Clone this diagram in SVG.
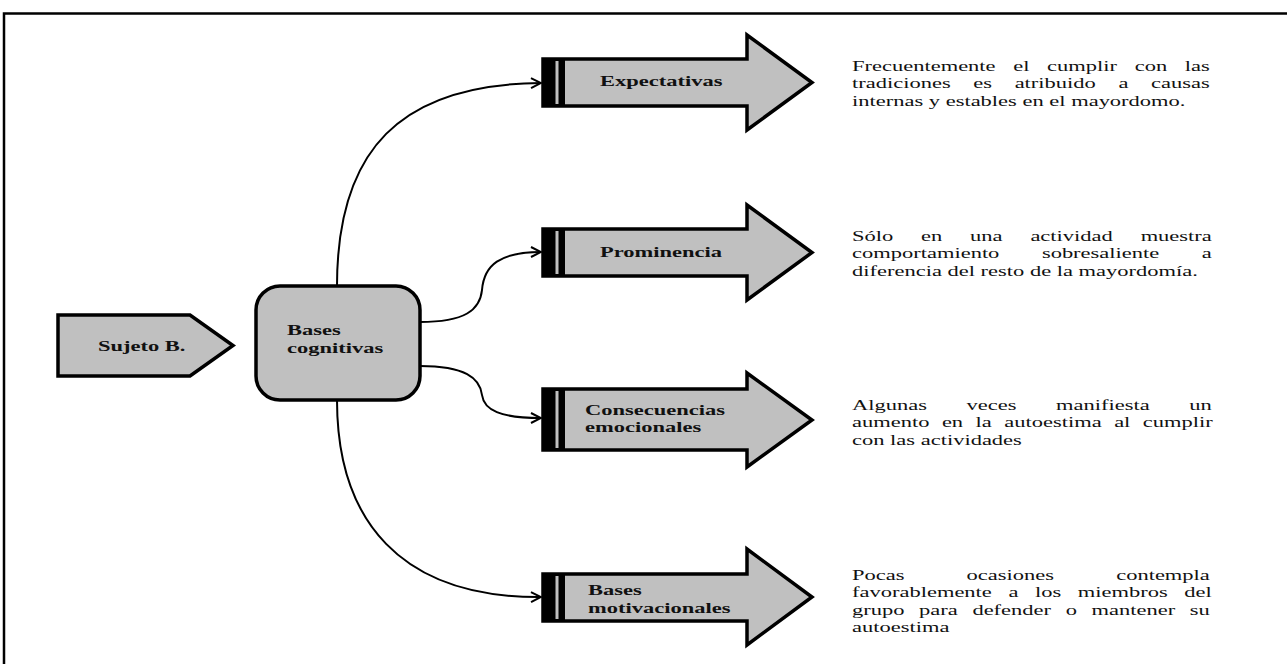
<svg xmlns="http://www.w3.org/2000/svg" width="1287" height="664" viewBox="0 0 1287 664">
<style>
.shape{fill:#c0c0c0;stroke:#000;stroke-width:3.5;stroke-linejoin:miter}
.band{fill:#000}
.stripe{fill:#c0c0c0}
.lbl{font-family:"Liberation Serif","Times New Roman",serif;font-size:15px;font-weight:bold;fill:#111}
.body{font-family:"Liberation Serif","Times New Roman",serif;font-size:15px;fill:#111}
.conn{fill:none;stroke:#000;stroke-width:2}
</style>
<defs>
<marker id="open" viewBox="0 0 12 12" refX="11" refY="6" markerWidth="12" markerHeight="12" markerUnits="userSpaceOnUse" orient="auto">
<path d="M1,1 L11,6 L1,11" fill="none" stroke="#000" stroke-width="2"/>
</marker>
</defs>
<rect width="1287" height="664" fill="#fff"/>
<path d="M4,664 V13.5 H1287" fill="none" stroke="#000" stroke-width="2.5"/>

<g id="connectors">
<path class="conn" d="M337,286 C337,150 400,84 541,83" marker-end="url(#open)"/>
<path class="conn" d="M420,322 C465,322 480,310 482,290 C484,265 500,252 541,252" marker-end="url(#open)"/>
<path class="conn" d="M420,366 C465,366 480,378 482,395 C484,410 500,418 541,418" marker-end="url(#open)"/>
<path class="conn" d="M337,400 C337,520 400,598 541,597" marker-end="url(#open)"/>
</g>

<g id="sujeto">
<polygon class="shape" points="58,315 190,315 233,345.5 190,376 58,376"/>
<text class="lbl" transform="translate(98,351) scale(1.5,1)" x="0" y="0">Sujeto B.</text>
</g>

<g id="bases-cognitivas">
<rect class="shape" x="256" y="286" width="164" height="114" rx="24" ry="24"/>
<text class="lbl" transform="translate(287,0) scale(1.5,1)"><tspan x="0" y="335">Bases</tspan><tspan x="0" y="353">cognitivas</tspan></text>
</g>

<g id="expectativas">
<polygon class="shape" points="543,59 747,59 747,35 812,82.5 747,130 747,106 543,106"/>
<rect class="band" x="543" y="59" width="22" height="47"/>
<rect class="stripe" x="555.5" y="61" width="3" height="43"/>
<text class="lbl" transform="translate(600,86) scale(1.5,1)" x="0" y="0">Expectativas</text>
</g>

<g id="prominencia">
<polygon class="shape" points="543,229 747,229 747,205 812,252.5 747,300 747,276 543,276"/>
<rect class="band" x="543" y="229" width="22" height="47"/>
<rect class="stripe" x="555.5" y="231" width="3" height="43"/>
<text class="lbl" transform="translate(600,257) scale(1.5,1)" x="0" y="0">Prominencia</text>
</g>

<g id="consecuencias">
<polygon class="shape" points="543,389 747,389 747,373 812,420 747,467 747,450 543,450"/>
<rect class="band" x="543" y="389" width="22" height="61"/>
<rect class="stripe" x="555.5" y="391" width="3" height="57"/>
<text class="lbl" transform="translate(585,0) scale(1.5,1)"><tspan x="0" y="415">Consecuencias</tspan><tspan x="0" y="432">emocionales</tspan></text>
</g>

<g id="bases-motivacionales">
<polygon class="shape" points="543,574 747,574 747,549 812,597 747,645 747,621 543,621"/>
<rect class="band" x="543" y="574" width="22" height="47"/>
<rect class="stripe" x="555.5" y="576" width="3" height="43"/>
<text class="lbl" transform="translate(588,0) scale(1.5,1)"><tspan x="0" y="595">Bases</tspan><tspan x="0" y="613">motivacionales</tspan></text>
</g>

<g id="texto-expectativas" class="body" transform="translate(852,0) scale(1.5,1)">
<text x="0" y="71" word-spacing="8.01">Frecuentemente el cumplir con las</text>
<text x="0" y="88.5" word-spacing="11.34">tradiciones es atribuido a causas</text>
<text x="0" y="106">internas y estables en el mayordomo.</text>
</g>

<g id="texto-prominencia" class="body" transform="translate(852,0) scale(1.5,1)">
<text x="0" y="241" word-spacing="14.8">Sólo en una actividad muestra</text>
<text x="0" y="258.5" word-spacing="24.6">comportamiento sobresaliente a</text>
<text x="0" y="276">diferencia del resto de la mayordomía.</text>
</g>

<g id="texto-consecuencias" class="body" transform="translate(852,0) scale(1.5,1)">
<text x="0" y="410" word-spacing="22.65">Algunas veces manifiesta un</text>
<text x="0" y="427.5" word-spacing="4.56">aumento en la autoestima al cumplir</text>
<text x="0" y="445">con las actividades</text>
</g>

<g id="texto-motivacionales" class="body" transform="translate(852,0) scale(1.5,1)">
<text x="0" y="580" word-spacing="37.68">Pocas ocasiones contempla</text>
<text x="0" y="597.5" word-spacing="7.3">favorablemente a los miembros del</text>
<text x="0" y="615" word-spacing="6.0">grupo para defender o mantener su</text>
<text x="0" y="632.5">autoestima</text>
</g>
</svg>
